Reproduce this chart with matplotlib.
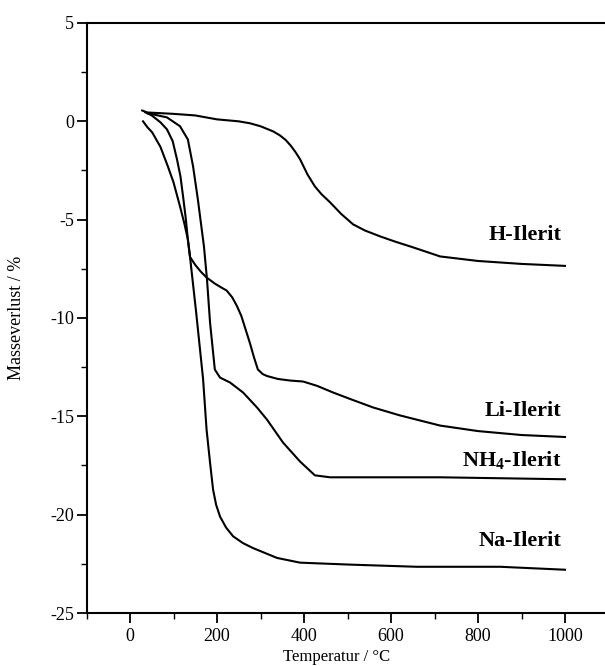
import matplotlib
matplotlib.use("Agg")
import matplotlib.pyplot as plt
from matplotlib.ticker import MultipleLocator

plt.rcParams['font.family'] = ['Liberation Serif', 'DejaVu Serif']
plt.rcParams['mathtext.fontset'] = 'custom'
plt.rcParams['mathtext.rm'] = 'Liberation Serif'
plt.rcParams['mathtext.bf'] = 'Liberation Serif:bold'
plt.rcParams['axes.unicode_minus'] = False

# ---- data ----
h_T = [28, 40, 100, 150, 200, 250, 276, 300, 329, 345, 358, 370, 380, 391, 408, 425,
       440, 460, 485, 513, 540, 575, 610, 651, 713, 800, 900, 1000]
h_v = [0.55, 0.45, 0.38, 0.3, 0.1, 0.0, -0.1, -0.25, -0.51, -0.72, -0.95, -1.25, -1.55,
       -1.93, -2.7, -3.31, -3.7, -4.12, -4.7, -5.24, -5.55, -5.85, -6.12, -6.41, -6.87,
       -7.1, -7.25, -7.35]

li_T = [30, 40, 51, 70, 87, 100, 115, 125, 133, 138, 150, 163, 176, 195, 210, 222,
        235, 246, 256, 266, 276, 285, 294, 305, 315, 340, 368, 398, 430, 467, 510,
        559, 620, 713, 800, 900, 1000]
li_v = [0.0, -0.3, -0.56, -1.3, -2.29, -3.1, -4.33, -5.2, -6.0, -6.9, -7.3, -7.65,
        -7.94, -8.25, -8.45, -8.6, -8.95, -9.4, -9.9, -10.6, -11.3, -12.0, -12.62,
        -12.85, -12.95, -13.1, -13.18, -13.23, -13.45, -13.79, -14.15, -14.55, -14.95,
        -15.47, -15.75, -15.95, -16.05]

nh4_T = [41, 85, 115, 133, 145, 156, 170, 177, 184, 195, 207, 230, 260, 292, 315,
         352, 391, 425, 460, 713, 1000]
nh4_v = [0.41, 0.2, -0.25, -0.92, -2.29, -3.97, -6.36, -8.04, -10.23, -12.62, -13.03,
         -13.28, -13.79, -14.55, -15.17, -16.34, -17.3, -18.0, -18.1, -18.1, -18.2]

na_T = [35, 50, 70, 85, 98, 108, 116, 122, 128, 133, 138, 152, 168, 176, 184, 191,
        198, 207, 221, 237, 260, 283, 338, 391, 506, 660, 851, 1000]
na_v = [0.46, 0.3, -0.05, -0.41, -1.0, -1.93, -2.8, -3.82, -4.9, -6.0, -6.9, -9.7,
        -13.1, -15.67, -17.35, -18.73, -19.5, -20.1, -20.66, -21.1, -21.45, -21.7,
        -22.2, -22.44, -22.54, -22.65, -22.65, -22.8]

labels = ["H-Ilerit", "Li-Ilerit", r"NH$_\mathbf{4}$-Ilerit", "Na-Ilerit"]
label_y = [-5.8, -14.75, -17.25, -21.35]

x_ticks = [0, 200, 400, 600, 800, 1000]
y_ticks = [5, 0, -5, -10, -15, -20, -25]

# ---- figure ----
fig = plt.figure(figsize=(6.05, 6.66), dpi=100)
ax = fig.add_axes([86.5 / 605, 53 / 666, 522 / 605, 590 / 666])

for T, v in [(h_T, h_v), (li_T, li_v), (nh4_T, nh4_v), (na_T, na_v)]:
    ax.plot(T, v, color='black', lw=1.5, solid_joinstyle='round')

for lab, y in zip(labels, label_y):
    ax.text(992, y, lab, ha='right', va='center', fontsize=16, fontweight='bold')

ax.set_xlim(-100, 1100)
ax.set_ylim(-25, 5)
ax.set_xticks(x_ticks)
ax.set_yticks(y_ticks)
ax.xaxis.set_minor_locator(MultipleLocator(100))
ax.yaxis.set_minor_locator(MultipleLocator(2.5))
ax.tick_params(which='major', direction='out', length=7, width=1.3, labelsize=13)
ax.tick_params(axis='x', which='major', pad=4)
ax.tick_params(axis='y', which='major', pad=2)
ax.tick_params(which='minor', direction='out', length=4, width=1.0)
for s in ax.spines.values():
    s.set_linewidth(1.5)

ax.set_xlabel("Temperatur / °C", fontsize=12, va='top')
ax.xaxis.set_label_coords(0.48, -0.061)
ax.set_ylabel("Masseverlust / %", fontsize=13)
ax.yaxis.set_label_coords(-0.118, 0.5)

fig.savefig("out.png", dpi=100)
